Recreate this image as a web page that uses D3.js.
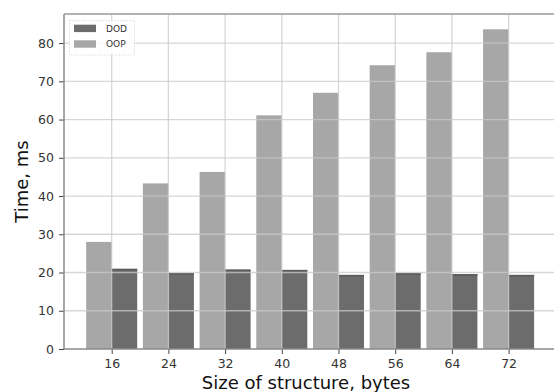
<!DOCTYPE html>
<html><head><meta charset="utf-8">
<script src="https://cdn.jsdelivr.net/npm/d3@7"></script>
<style>body{margin:0;background:#fff;overflow:hidden}svg{display:block;overflow:hidden}text{font-family:"DejaVu Sans",sans-serif}</style>
</head><body>
<svg id="c" width="554" height="392"></svg>
<script>
const sizes = [16, 24, 32, 40, 48, 56, 64, 72];
const oop = [28.0, 43.3, 46.3, 61.1, 67.0, 74.2, 77.6, 83.6];
const dod = [21.0, 19.9, 20.8, 20.7, 19.4, 19.9, 19.6, 19.4];
const yTicks = [0, 10, 20, 30, 40, 50, 60, 70, 80];
const seriesNames = ["DOD", "OOP"];
const colors = {DOD: "#6c6c6c", OOP: "#a7a7a7"};
const barW = 3.6;

const svg = d3.select("#c");
const L = 64, R = 554, T = 14, B = 349;
const x = d3.scaleLinear().domain([9.27, 9.27 + (R - L) / 7.0875]).range([L, R]);
const y = d3.scaleLinear().domain([0, 87.6]).range([B, T]);

// bars
const g = svg.append("g");
g.selectAll(".oop").data(sizes).join("rect")
  .attr("x", (d) => x(d - barW)).attr("width", x(barW) - x(0))
  .attr("y", (d, i) => y(oop[i])).attr("height", (d, i) => y(0) - y(oop[i]))
  .attr("fill", colors.OOP);
g.selectAll(".dod").data(sizes).join("rect")
  .attr("x", (d) => x(d)).attr("width", x(barW) - x(0))
  .attr("y", (d, i) => y(dod[i])).attr("height", (d, i) => y(0) - y(dod[i]))
  .attr("fill", colors.DOD);
g.selectAll(".dodtop").data(sizes).join("line")
  .attr("x1", (d) => x(d)).attr("x2", (d) => x(d + barW))
  .attr("y1", (d, i) => y(dod[i]) + 1).attr("y2", (d, i) => y(dod[i]) + 1)
  .attr("stroke", "#5a5a5a").attr("stroke-width", 1.5);

// grid on top
const grid = svg.append("g").attr("stroke", "#c9c9c9").attr("stroke-opacity", 0.75).attr("stroke-width", 1.3);
grid.selectAll(".h").data(yTicks.filter(v => v > 0)).join("line")
  .attr("x1", L).attr("x2", R).attr("y1", d => y(d)).attr("y2", d => y(d));
grid.selectAll(".v").data(sizes).join("line")
  .attr("x1", d => x(d)).attr("x2", d => x(d)).attr("y1", T).attr("y2", B);

// axes
const ax = svg.append("g").attr("transform", `translate(0,${B})`)
  .call(d3.axisBottom(x).tickValues(sizes).tickSize(5).tickPadding(5).tickFormat(d3.format("d")));
const ay = svg.append("g").attr("transform", `translate(${L},0)`)
  .call(d3.axisLeft(y).tickValues(yTicks).tickSize(5).tickPadding(5));
[ax, ay].forEach(a => {
  a.select(".domain").remove();
  a.selectAll(".tick line").attr("stroke", "#444").attr("stroke-width", 1);
  a.selectAll(".tick text").attr("fill", "#333").style("font-size", "12.5px");
});
// spines
svg.append("line").attr("x1", L).attr("x2", R).attr("y1", B).attr("y2", B).attr("stroke", "#8a8a8a").attr("stroke-width", 1.5);
svg.append("line").attr("x1", L).attr("x2", L).attr("y1", T).attr("y2", B).attr("stroke", "#8a8a8a").attr("stroke-width", 1.5);
svg.append("line").attr("x1", L).attr("x2", R).attr("y1", T).attr("y2", T).attr("stroke", "#9a9a9a").attr("stroke-width", 1.3);

// labels
svg.append("text").attr("x", 306).attr("y", 389).attr("text-anchor", "middle")
  .style("font-size", "18px").attr("fill", "#111").text("Size of structure, bytes");
svg.append("text").attr("transform", `translate(28,${(T + B) / 2}) rotate(-90)`).attr("text-anchor", "middle")
  .style("font-size", "18px").attr("fill", "#111").text("Time, ms");

// legend
const lg = svg.append("g");
lg.append("rect").attr("x", 69.5).attr("y", 20.5).attr("width", 65).attr("height", 34.5)
  .attr("fill", "#fff").attr("fill-opacity", 0.85).attr("stroke", "#ddd").attr("stroke-dasharray", "1.5,1.5");
seriesNames.forEach((s, i) => {
  lg.append("rect").attr("x", 74).attr("y", 24.7 + i * 15.6).attr("width", 22).attr("height", 7.4).attr("fill", colors[s]);
  lg.append("text").attr("x", 106).attr("y", 31.8 + i * 15.6).style("font-size", "9px").attr("fill", "#333").text(s);
});
</script>
</body></html>
